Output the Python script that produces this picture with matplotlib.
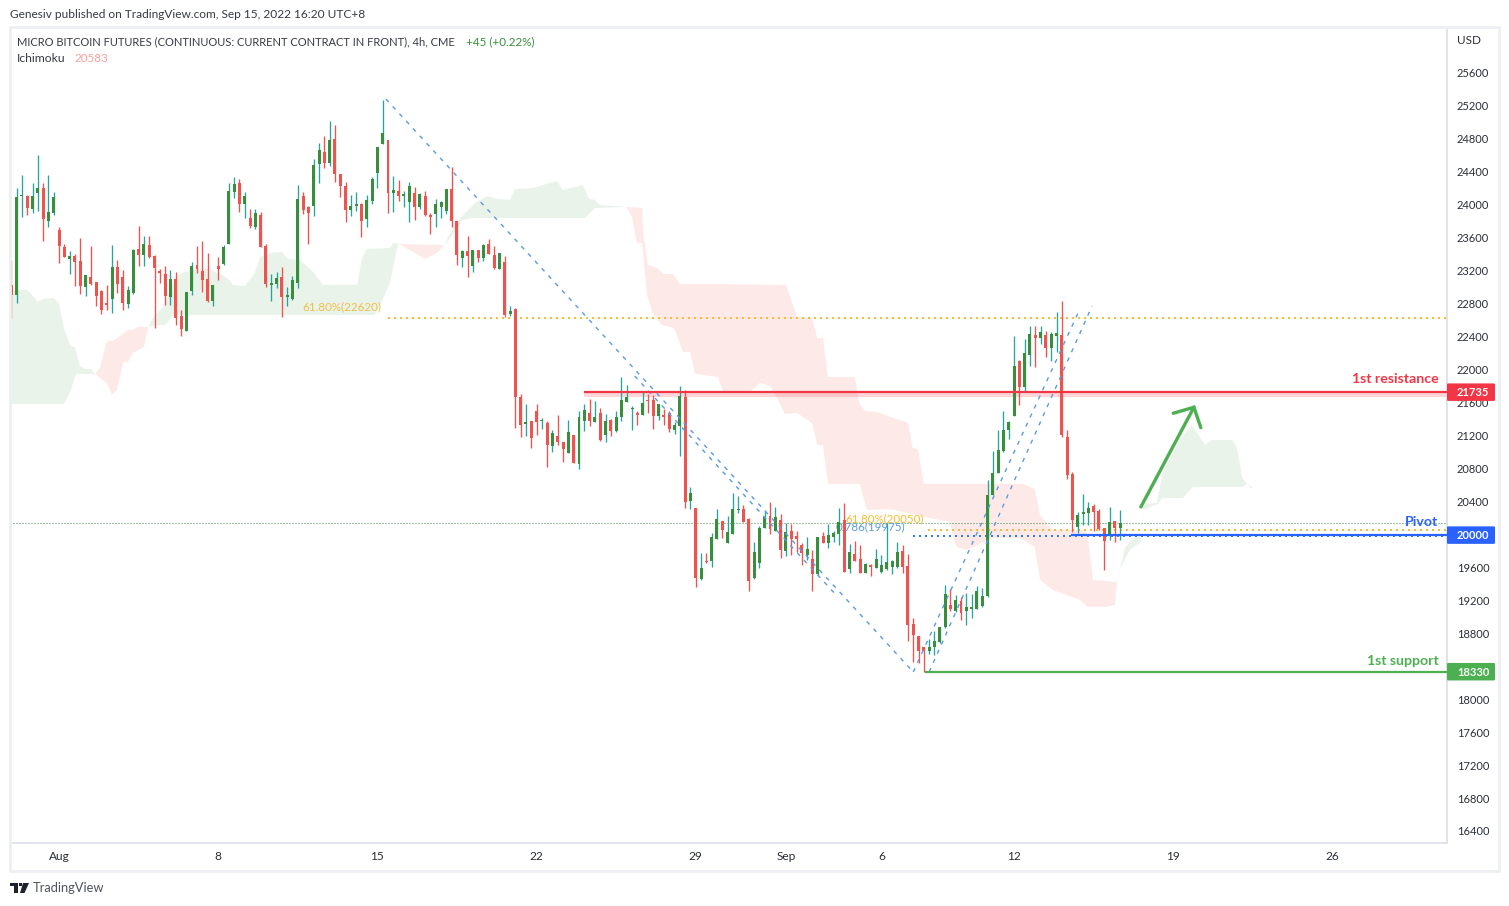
#%%
import matplotlib
matplotlib.use("Agg")
import matplotlib.pyplot as plt
from matplotlib.patches import Rectangle, Polygon, FancyBboxPatch
from matplotlib.transforms import ScaledTranslation
import numpy as np

# ---------------------------
# candles, one price per 4h bar
# ---------------------------
opens = [
    23027, 22910, 24107, 24107, 23954, 24148, 24204, 23808, 23905, 23695,
    23488, 23347, 23379, 23318, 23007, 23124, 23064, 22954, 22809, 22861,
    23246, 23124, 22801, 22934, 23464, 23395, 23513, 23379, 23197, 23161,
    22885, 23100, 22651, 22473, 22958, 23270, 23197, 23100, 22837, 23258,
    23286, 23529, 24160, 24265, 24014, 23840, 23735, 23877, 23500, 23031,
    23043, 23124, 22885, 22861, 23055, 24107, 23974, 23990, 24500, 24641,
    24512, 24799, 24374, 24229, 23941, 23990, 24010, 23832, 24047, 24391,
    24743, 24787, 24144, 24168, 24111, 24039, 24144, 23978, 24107, 23877,
    23893, 23974, 23929, 24192, 23804, 23359, 23440, 23262, 23452, 23359,
    23525, 23391, 23225, 23306, 22679, 22736, 21667, 21344, 21376, 21497,
    21376, 21352, 21077, 21194, 21121, 20992, 21206, 20858, 21380, 21473,
    21368, 21473, 21210, 21388, 21259, 21429, 21607, 21522, 21473, 21453,
    21631, 21631, 21441, 21449, 21473, 21271, 21319, 21667, 20409, 20320,
    19462, 19677, 19681, 19948, 20162, 19895, 20008, 20296, 20308, 20186,
    19474, 19656, 20081, 20223, 20045, 20174, 19802, 20041, 19980, 19871,
    19750, 19701, 19519, 19980, 19895, 19968, 20005, 20174, 19580, 19762,
    19701, 19531, 19628, 19592, 19543, 19580, 19604, 19604, 19798, 19616,
    18912, 18766, 18633, 18584, 18633, 18694, 18876, 19143, 19070, 19191,
    19070, 19094, 19094, 19131, 19252, 20482, 20749, 21012, 21267, 21437,
    22104, 21789, 22177, 22420, 22383, 22420, 22262, 22408, 22420, 21182,
    20733, 20089, 20247, 20259, 20344, 20283, 20077, 20004, 20162, 20077,
]
highs = [
    23331, 24204, 24362, 24120, 24265, 24605, 24265, 24362, 24156, 23731,
    23525, 23440, 23403, 23598, 23148, 23500, 23064, 22966, 23027, 23513,
    23331, 23209, 23015, 23464, 23743, 23622, 23622, 23391, 23221, 23258,
    23209, 23185, 22728, 22942, 23306, 23500, 23561, 23416, 23027, 23367,
    23513, 24265, 24338, 24314, 24156, 23950, 23950, 23913, 23525, 23161,
    23185, 23246, 23003, 23136, 24241, 24156, 23986, 24556, 24751, 24836,
    25018, 24969, 24374, 24277, 24120, 24156, 24018, 24120, 24338, 24702,
    25273, 24787, 24350, 24302, 24168, 24277, 24217, 24144, 24168, 23905,
    24071, 24047, 24192, 24459, 23804, 23452, 23626, 23452, 23452, 23525,
    23585, 23500, 23416, 23379, 22772, 22748, 21704, 21582, 21376, 21582,
    21412, 21376, 21267, 21449, 21121, 21388, 21206, 21497, 21582, 21643,
    21619, 21534, 21461, 21400, 21497, 21910, 21813, 21558, 21497, 21728,
    21704, 21692, 21582, 21522, 21497, 21364, 21801, 21752, 20575, 20320,
    19774, 19774, 20017, 20308, 20162, 20223, 20502, 20466, 20356, 20199,
    19907, 20101, 20296, 20393, 20332, 20247, 20138, 20126, 20041, 19895,
    19968, 19810, 19968, 20029, 20126, 20041, 20320, 20381, 19883, 19920,
    19871, 19653, 19640, 19822, 19750, 20134, 19689, 19907, 19871, 19762,
    18985, 18766, 18633, 18730, 18827, 18876, 19386, 19337, 19264, 19240,
    19288, 19276, 19373, 19349, 20660, 21012, 21267, 21497, 21376, 22408,
    22116, 22371, 22529, 22529, 22529, 22468, 22456, 22699, 22832, 21267,
    20757, 20271, 20490, 20393, 20368, 20308, 20077, 20332, 20162, 20296,
]
lows = [
    22631, 22813, 23857, 23881, 23905, 23929, 23565, 23735, 23881, 23298,
    23371, 23165, 23019, 22922, 22898, 23031, 22776, 22679, 22728, 22691,
    22934, 22728, 22752, 22922, 23262, 23262, 23359, 22509, 23055, 22788,
    22788, 22546, 22412, 22473, 22910, 23177, 22946, 22825, 22776, 23092,
    23274, 23529, 24087, 23917, 23844, 23723, 23711, 23492, 23007, 22837,
    22991, 22643, 22776, 22849, 22995, 23893, 23529, 23869, 24269, 24443,
    24476, 24281, 24099, 23796, 23869, 23929, 23614, 23735, 24014, 24209,
    24743, 23901, 23917, 24051, 23978, 23796, 23820, 23954, 23869, 23650,
    23735, 23844, 23893, 23735, 23270, 23250, 23128, 23189, 23310, 23322,
    23407, 23225, 23225, 22643, 22655, 21295, 21186, 21198, 21052, 21206,
    21279, 20822, 21004, 21089, 20878, 20992, 20862, 20797, 21259, 21319,
    21368, 21137, 21125, 21198, 21246, 21380, 21607, 21271, 21327, 21449,
    21477, 21279, 21392, 21327, 21246, 21222, 20955, 20324, 20312, 19365,
    19450, 19656, 19608, 19948, 19960, 19895, 20008, 20263, 20150, 19317,
    19462, 19596, 20077, 20008, 20045, 19717, 19741, 19749, 19790, 19628,
    19689, 19317, 19507, 19895, 19835, 19907, 19871, 19543, 19531, 19677,
    19531, 19531, 19495, 19592, 19531, 19568, 19519, 19592, 19531, 18702,
    18451, 18439, 18330, 18548, 18536, 18682, 18864, 19074, 19058, 18961,
    18900, 18985, 19094, 19118, 19244, 20474, 20741, 21004, 21157, 21437,
    21570, 21732, 22043, 22031, 22311, 22153, 22104, 22213, 21186, 20672,
    20033, 20012, 20114, 20114, 20041, 20053, 19567, 19931, 19907, 19931,
]
closes = [
    22910, 24095, 24120, 23966, 24107, 24204, 23832, 23913, 24095, 23505,
    23371, 23379, 23310, 23019, 23148, 23043, 22898, 22728, 22788, 23246,
    23043, 22813, 22966, 23452, 23395, 23525, 23371, 23238, 23173, 22898,
    23100, 22631, 22497, 22942, 23258, 23221, 23092, 22837, 23027, 23221,
    23488, 24168, 24253, 24014, 24107, 23747, 23901, 23492, 23043, 23051,
    23112, 22885, 22906, 23088, 24071, 23937, 23905, 24484, 24666, 24512,
    24787, 24378, 24233, 23941, 23986, 24010, 23808, 24059, 24314, 24702,
    24872, 24148, 24180, 24111, 24132, 24229, 23978, 24132, 23881, 23857,
    24010, 24035, 24192, 23808, 23395, 23440, 23383, 23452, 23359, 23513,
    23407, 23238, 23416, 22667, 22712, 21671, 21327, 21364, 21170, 21364,
    21388, 21089, 21230, 21125, 21040, 21242, 20870, 21425, 21509, 21380,
    21425, 21149, 21376, 21259, 21425, 21631, 21667, 21534, 21449, 21594,
    21619, 21441, 21582, 21429, 21279, 21327, 21679, 20397, 20502, 19474,
    19592, 19664, 19968, 20186, 20057, 20029, 20308, 20308, 20150, 19438,
    19786, 20077, 20211, 20069, 20211, 19814, 20029, 19948, 19948, 19774,
    19822, 19519, 19968, 19895, 19992, 20017, 20150, 19543, 19786, 19677,
    19531, 19640, 19604, 19701, 19628, 19665, 19677, 19786, 19604, 18904,
    18779, 18584, 18584, 18633, 18706, 18876, 19276, 19094, 19203, 19046,
    19118, 19118, 19313, 19252, 20478, 20745, 21024, 21267, 21364, 22043,
    21789, 22201, 22432, 22383, 22456, 22262, 22432, 22444, 21206, 20720,
    20174, 20235, 20271, 20320, 20271, 20065, 19919, 20150, 20077, 20138,
]

# ---------------------------
# ichimoku cloud edges (bar, price)
# span a above span b = green, below = red
# ---------------------------
span_a_bars = [
    -0.1, 3.0, 4.1, 5.0, 6.0, 7.9, 9.0, 9.9, 11.1, 12.0, 12.9, 13.9, 15.0, 15.8, 18.0, 19.0,
    19.9, 21.1, 22.0, 22.9, 25.0, 25.8, 26.7, 28.6, 31.2, 34.1, 37.4, 38.4, 40.7, 41.8, 44.0,
    45.9, 46.9, 48.8, 51.0, 52.1, 54.4, 56.9, 58.7, 65.2, 66.1, 67.0, 71.4, 72.0, 72.9, 75.1,
    78.0, 80.2, 81.4, 83.6, 85.0, 87.4, 89.8, 91.5, 94.0, 94.9, 98.3, 102.8, 104.0, 107.7,
    108.9, 110.0, 110.9, 115.9, 117.0, 117.9, 118.9, 119.8, 120.9, 122.6, 124.9, 126.6, 127.9,
    128.9, 133.2, 134.1, 139.2, 141.1, 143.0, 144.3, 145.8, 148.1, 150.9, 151.9, 153.0, 153.9,
    159.9, 161.3, 165.6, 173.1, 176.9, 177.5, 178.2, 180.1, 185.0, 190.1, 192.9, 193.9, 196.3,
    201.4, 202.9, 206.5, 208.0, 208.4, 209.9, 211.8, 212.9, 213.3, 213.7, 215.9, 217.0, 220.3,
    222.5, 225.0, 226.3, 230.1, 231.0, 232.0, 232.9, 233.8,
]
span_a = [
    22966, 22966, 22893, 22821, 22857, 22869, 22808, 22505, 22287, 22274, 22044, 22007, 22007, 21947, 21838, 21692,
    21753, 22092, 22092, 22202, 22274, 22517, 22626, 22760, 23148, 23209, 23233, 23185, 23112, 23027, 23015,
    23173, 23367, 23415, 23427, 23343, 23330, 23185, 23027, 23027, 23355, 23464, 23476, 23537, 23525, 23452,
    23343, 23415, 23488, 23755, 23864, 24022, 24107, 24071, 24059, 24192, 24204, 24289, 24180, 24241,
    24071, 24059, 23998, 23974, 23852, 23537, 23537, 22906, 22687, 22541, 22505, 22214, 22214,
    21947, 21910, 21740, 21728, 21838, 21801, 21655, 21461, 21473, 21352, 21085, 21085, 20612,
    20612, 20296, 20308, 20199, 20150, 19968, 19847, 19811, 19956, 19956, 19847, 19447, 19325,
    19204, 19119, 19119, 19143, 19422, 19835, 19981, 19968, 20333, 20369, 20381, 20745, 21146,
    21328, 21085, 21146, 21146, 21049, 20685, 20612, 20551,
]
span_b_bars = [
    -0.1, 9.9, 11.1, 12.2, 15.0, 15.8, 16.7, 18.0, 19.2, 22.0, 22.9, 23.9, 25.8, 27.1, 29.0, 30.5,
    68.5, 69.7, 71.4, 72.9, 81.2, 81.4, 83.6, 85.0, 87.1, 108.1, 110.0, 115.9, 118.9, 119.1, 120.0,
    121.7, 123.0, 124.7, 126.0, 131.1, 146.0, 148.1, 150.9, 151.9, 153.0, 153.9, 159.0, 159.8,
    160.9, 163.1, 169.0, 169.9, 170.9, 172.0, 190.7, 192.9, 193.9, 196.3, 202.4, 202.9, 203.9,
    208.4, 208.9, 210.8, 212.9, 213.3, 216.1, 216.9, 220.8, 222.7, 232.0, 232.9, 233.8,
]
span_b = [
    21583, 21583, 21728, 21947, 21947, 21947, 22020, 22347, 22347, 22481, 22481, 22517, 22517, 22541, 22541, 22663,
    22663, 22808, 23063, 23525, 23512, 23488, 23670, 23816, 23840, 23840, 23961, 23974, 23961, 23658, 23270,
    23233, 23160, 23160, 23039, 23039, 23027, 22639, 22626, 22384, 22384, 21910, 21910, 21595,
    21498, 21486, 21352, 21049, 21037, 20612, 20612, 20551, 20235, 20053, 20053, 19968, 19447,
    19422, 19568, 19811, 19908, 20296, 20369, 20442, 20442, 20575, 20575, 20612, 20575,
]

# ---------------------------
# levels and drawings (bar, price)
# ---------------------------
resistance = 21735
resistance_zone = 21680
pivot = 20000
support = 18330
fib_upper = 22620
fib_lower = 20050
fib_blue = 19975

drop_line = ([70.6, 170.0], [25284, 18330])
drop_line_2 = ([117.5, 155.8], [21922, 19240])
rise_line = ([170.0, 201.4], [18330, 22736])
rise_line_2 = ([173.0, 203.7], [18330, 22772])
arrow_shaft = ([212.9, 222.9], [20333, 21543])
arrow_head = ([219.0, 222.9, 224.2], [21470, 21543, 21295])

price_ticks = list(range(16400, 25601, 400))
time_tick_bars = [9, 39, 69, 99, 129, 146, 164, 189, 219, 249]
time_tick_labels = ["Aug", "8", "15", "22", "29", "Sep", "6", "12", "19", "26"]

# ---------------------------
# colours, font, figure
# ---------------------------
UP = "#388e3c"
UP_WICK = "#26a69a"
DOWN = "#ef5350"
GREEN = "#4caf50"
RED = "#f23645"
BLUE = "#2962ff"
FIB_BLUE = "#5a9be0"
ORANGE = "#ffb92e"
BORDER = "#e0e3eb"
TEXT = "#2a2e39"
DOTS = (0, (1, 2))     # scales with lw, gives the 6px dot period

plt.rcParams["font.family"] = "Lato"

W, H = 1509, 906
fig = plt.figure(figsize=(W / 100, H / 100), dpi=100, facecolor="white")

# pane in pixels, everything else hangs off this
PANE_L, PANE_R, PANE_T, PANE_B = 10, 1447, 27, 843
ax = fig.add_axes([PANE_L / W, 1 - PANE_B / H, (PANE_R - PANE_L) / W, (PANE_B - PANE_T) / H])
ax.set_xlim(-0.245, 270.6)
ax.set_ylim(16254, 26158)
right_end = ax.get_xlim()[1]

# the horizontal tools sit about 1px under their price
one_px_down = ax.transData + ScaledTranslation(0, -1 / 100, fig.dpi_scale_trans)

# ---------------------------
# cloud
# ---------------------------
grid = np.arange(-0.1, 233.85, 0.05)
a = np.interp(grid, span_a_bars, span_a)
b = np.interp(grid, span_b_bars, span_b)
ax.fill_between(grid, a, b, where=a >= b, color="#e9f3ea", lw=0, zorder=1, interpolate=True)
ax.fill_between(grid, a, b, where=a <= b, color="#fdeae8", lw=0, zorder=1, interpolate=True)

# ---------------------------
# levels under the candles
# ---------------------------
ax.axhline(closes[-1], color=UP, lw=0.72, ls=DOTS, zorder=2)
ax.plot([71.0, right_end], [fib_upper, fib_upper], color=ORANGE, lw=1.44, ls=DOTS, zorder=2)
ax.plot([172.7, right_end], [fib_lower, fib_lower], color=ORANGE, lw=1.44, ls=DOTS, zorder=2)
ax.plot([170.0, right_end], [fib_blue, fib_blue], color="#2f7de1", lw=1.44, ls=DOTS, zorder=2)

ax.fill_between([107.9, right_end], resistance_zone, resistance, color=RED, alpha=0.2, lw=0, zorder=2,
                transform=one_px_down)

ax.text(155.3, fib_blue + 50, "0.786(19975)", color="#5b9bdc", fontsize=8.4, ha="left", va="bottom", zorder=2)
ax.text(157.2, fib_lower + 75, "61.80%(20050)", color="#f5bd2e", fontsize=8.3, ha="left", va="bottom", zorder=6)
ax.text(69.7, fib_upper + 70, "61.80%(22620)", color="#f0bf45", fontsize=8.4, ha="right", va="bottom", zorder=2)

# ---------------------------
# candles
# ---------------------------
bars = np.arange(len(closes))
o = np.array(opens)
h = np.array(highs)
l = np.array(lows)
c = np.array(closes)
up = c >= o

ax.vlines(bars[up], l[up], h[up], color=UP_WICK, lw=0.95, zorder=3)
ax.vlines(bars[~up], l[~up], h[~up], color=DOWN, lw=0.95, zorder=3)
ax.bar(bars[up], (c - o)[up], bottom=o[up], width=0.56, color=UP, lw=0, zorder=4)
ax.bar(bars[~up], (o - c)[~up], bottom=c[~up], width=0.56, color=DOWN, lw=0, zorder=4)

# ---------------------------
# trend lines, levels, arrow
# ---------------------------
for line in [drop_line, drop_line_2, rise_line, rise_line_2]:
    ax.plot(line[0], line[1], color=FIB_BLUE, lw=1.0, ls=(0, (3, 4.2)), zorder=5)

ax.plot([107.9, right_end], [resistance, resistance], color=RED, lw=1.6, zorder=5, solid_capstyle="butt",
        transform=one_px_down)
ax.plot([199.8, right_end], [pivot, pivot], color=BLUE, lw=1.6, zorder=5, solid_capstyle="butt",
        transform=one_px_down)
ax.plot([172.2, right_end], [support, support], color=GREEN, lw=1.6, zorder=5, solid_capstyle="butt")

ax.plot(arrow_shaft[0], arrow_shaft[1], color=GREEN, lw=2.4, zorder=5, solid_capstyle="round")
ax.plot(arrow_head[0], arrow_head[1], color=GREEN, lw=2.4, zorder=5, solid_capstyle="round", solid_joinstyle="miter")

ax.text(269.0, 21886, "1st resistance", color=RED, fontsize=10.2, fontweight="bold", ha="right", va="center", zorder=6)
ax.text(269.0, 20150, "Pivot", color=BLUE, fontsize=10.2, fontweight="bold", ha="right", va="center", zorder=6)
ax.text(269.0, 18463, "1st support", color=GREEN, fontsize=10.2, fontweight="bold", ha="right", va="center", zorder=6)

# ---------------------------
# axes
# ---------------------------
ax.yaxis.tick_right()
ax.set_yticks(price_ticks)
# 20000 is fully under the blue tag, the tag prints it
ax.set_yticklabels(["" if t == pivot else str(t) for t in price_ticks], fontsize=8.0, color=TEXT)
ax.tick_params(axis="y", length=0, pad=7.2)
ax.set_xticks(time_tick_bars)
ax.set_xticklabels(time_tick_labels, fontsize=8.6, color=TEXT)
ax.tick_params(axis="x", length=0, pad=6)
ax.spines["left"].set_visible(False)
ax.spines["top"].set_visible(False)
for side in ["right", "bottom"]:
    ax.spines[side].set_color(BORDER)
    ax.spines[side].set_linewidth(1.4)


# ---------------------------
# helpers working in figure pixels
# ---------------------------
def px(x, y):
    return x / W, 1 - y / H


def fig_text(x, y, s, **kw):
    fx, fy = px(x, y)
    fig.text(fx, fy, s, va="center", **kw)


# frame around chart and price axis
fx, fy = px(10, 871)
fig.add_artist(Rectangle((fx, fy), 1489 / W, 844 / H, transform=fig.transFigure, fill=False,
                         edgecolor="#eeeff5", lw=2.0))

# price tags on the axis
for level, colour, shift in [(resistance, RED, 1), (pivot, BLUE, 1), (support, GREEN, 0)]:
    y_px = PANE_T + (ax.get_ylim()[1] - level) / (ax.get_ylim()[1] - ax.get_ylim()[0]) * (PANE_B - PANE_T) + shift
    fx, fy = px(1447, y_px + 8.5)
    fig.add_artist(FancyBboxPatch((fx, fy), 48 / W, 17.5 / H, transform=fig.transFigure,
                                  boxstyle="round,pad=0,rounding_size=0.001", facecolor=colour,
                                  edgecolor=colour, lw=0, zorder=8))
    fx, fy = px(1457, y_px + 0.5)
    fig.text(fx, fy, str(level), color="white", fontsize=8.0, fontweight="bold", ha="left", va="center", zorder=9)

# header
fig_text(10, 15, "Genesiv published on TradingView.com, Sep 15, 2022 16:20 UTC+8", color="#363a45", fontsize=8.55)
fig_text(17, 42, "MICRO BITCOIN FUTURES (CONTINUOUS: CURRENT CONTRACT IN FRONT), 4h, CME", color="#363a45", fontsize=8.03)
fig_text(466, 42, "+45 (+0.22%)", color=UP, fontsize=8.4)
fig_text(17, 59, "Ichimoku", color="#363a45", fontsize=8.7)
fig_text(74, 59, "20583", color="#f7a0a0", fontsize=8.4)
fig_text(1457, 41, "USD", color=TEXT, fontsize=8.4)

# footer logo
for pts in [[(10, 883), (18, 883), (18, 893), (14, 893), (14, 886), (10, 886)],
            [(23, 883), (29, 883), (24.5, 893), (20, 893)]]:
    fig.add_artist(Polygon([px(*p) for p in pts], closed=True, transform=fig.transFigure, facecolor="#1e222d", lw=0))
fig.add_artist(Polygon([px(18.5, 883), px(21.5, 883), px(21.5, 886), px(18.5, 886)], closed=True,
                       transform=fig.transFigure, facecolor="#1e222d", lw=0))
fig_text(33, 888, "TradingView", color="#50535e", fontsize=9.3)

fig.savefig("out.png", dpi=100)
# %%
